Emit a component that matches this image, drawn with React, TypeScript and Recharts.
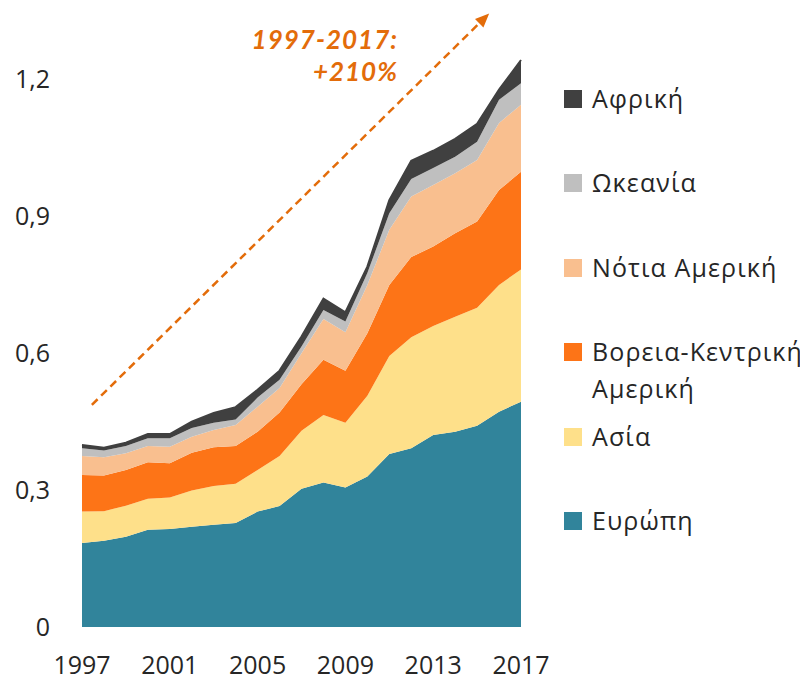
import React from 'react';
import { AreaChart, Area, XAxis, YAxis, ReferenceLine } from 'recharts';

const years = [1997, 1998, 1999, 2000, 2001, 2002, 2003, 2004, 2005, 2006, 2007, 2008, 2009, 2010, 2011, 2012, 2013, 2014, 2015, 2016, 2017];

const europe = [0.184, 0.189, 0.198, 0.213, 0.215, 0.22, 0.224, 0.228, 0.253, 0.265, 0.303, 0.317, 0.306, 0.33, 0.379, 0.392, 0.421, 0.428, 0.441, 0.472, 0.494];
const asia = [0.069, 0.065, 0.068, 0.068, 0.069, 0.079, 0.085, 0.086, 0.091, 0.11, 0.127, 0.148, 0.142, 0.177, 0.215, 0.243, 0.239, 0.252, 0.259, 0.278, 0.29];
const northCentralAmerica = [0.08, 0.078, 0.078, 0.08, 0.075, 0.083, 0.085, 0.083, 0.084, 0.095, 0.102, 0.121, 0.114, 0.137, 0.156, 0.176, 0.174, 0.183, 0.189, 0.208, 0.214];
const southAmerica = [0.042, 0.04, 0.037, 0.036, 0.036, 0.035, 0.038, 0.046, 0.055, 0.054, 0.068, 0.089, 0.084, 0.106, 0.121, 0.133, 0.135, 0.132, 0.135, 0.147, 0.147];
const oceania = [0.017, 0.015, 0.016, 0.017, 0.019, 0.019, 0.016, 0.012, 0.02, 0.018, 0.015, 0.02, 0.024, 0.026, 0.036, 0.038, 0.037, 0.036, 0.04, 0.051, 0.047];
const africa = [0.007, 0.006, 0.007, 0.009, 0.009, 0.014, 0.021, 0.027, 0.017, 0.02, 0.022, 0.025, 0.02, 0.014, 0.029, 0.04, 0.038, 0.039, 0.039, 0.022, 0.051];

const xTicks = [1997, 2001, 2005, 2009, 2013, 2017];
const yTicks = [0, 0.3, 0.6, 0.9, 1.2];

// bottom to top in the stack
const series = [
  { key: 'europe', name: 'Ευρώπη', color: '#31849b', values: europe },
  { key: 'asia', name: 'Ασία', color: '#fee08a', values: asia },
  { key: 'ncam', name: 'Βορεια-Κεντρική Αμερική', color: '#fd7417', values: northCentralAmerica },
  { key: 'sam', name: 'Νότια Αμερική', color: '#f9bf8f', values: southAmerica },
  { key: 'oceania', name: 'Ωκεανία', color: '#bfbfbf', values: oceania },
  { key: 'africa', name: 'Αφρική', color: '#404040', values: africa },
];

const data = years.map((year, i) => {
  const row: Record<string, number> = { year };
  series.forEach((s) => {
    row[s.key] = s.values[i];
  });
  return row;
});

const FONT = '"Open Sans", "Noto Sans", sans-serif';
const ANNOT = '#e36c0a';

const ArrowShape = (props: any) => {
  const { x1, y1, x2, y2 } = props;
  const ang = Math.atan2(y2 - y1, x2 - x1);
  const len = 14;
  const w = 6;
  const bx = x2 - len * Math.cos(ang);
  const by = y2 - len * Math.sin(ang);
  const px = -Math.sin(ang) * w;
  const py = Math.cos(ang) * w;
  return (
    <g>
      <line x1={x1} y1={y1} x2={bx} y2={by} stroke={ANNOT} strokeWidth={2.5} strokeDasharray="8 5" />
      <polygon points={`${x2},${y2} ${bx + px},${by + py} ${bx - px},${by - py}`} fill={ANNOT} />
    </g>
  );
};

const formatY = (v: number) => (v === 0 ? '0' : v.toFixed(1).replace('.', ','));

export default function App() {
  const legendItems = [...series].reverse();
  return (
    <div style={{ position: 'relative', width: 800, height: 674, fontFamily: FONT }}>
      <AreaChart width={800} height={674} data={data} margin={{ top: 26, right: 287, bottom: 0, left: 0 }}>
        <XAxis
          dataKey="year"
          type="number"
          domain={[1997, 2017]}
          ticks={xTicks}
          axisLine={false}
          tickLine={false}
          tickSize={0}
          tickMargin={29}
          height={55}
          tick={{ fill: '#262626', fontSize: 25, fontFamily: FONT }}
        />
        <YAxis
          domain={[0, 1.3]}
          ticks={yTicks}
          allowDataOverflow
          axisLine={false}
          tickLine={false}
          tickSize={0}
          tickMargin={32}
          width={74}
          tickFormatter={formatY}
          tick={{ fill: '#262626', fontSize: 25, fontFamily: FONT }}
        />
        {series.map((s) => (
          <Area
            key={s.key}
            type="linear"
            dataKey={s.key}
            name={s.name}
            stackId="1"
            fill={s.color}
            fillOpacity={1}
            stroke={s.key === 'africa' ? s.color : 'none'}
            strokeWidth={s.key === 'africa' ? 2 : 0}
            isAnimationActive={false}
          />
        ))}
        <ReferenceLine
          segment={[
            { x: 1997.45, y: 0.487 },
            { x: 2015.55, y: 1.345 },
          ]}
          ifOverflow="visible"
          shape={ArrowShape}
        />
      </AreaChart>

      <div
        style={{
          position: 'absolute',
          left: 180,
          width: 210,
          top: 15,
          textAlign: 'right',
          color: ANNOT,
          fontFamily: 'Lato, "Open Sans", sans-serif',
          fontWeight: 700,
          fontStyle: 'italic',
          fontSize: 26,
          lineHeight: '32px',
          letterSpacing: 1,
        }}
      >
        <div>1997-2017:</div>
        <div>+210%</div>
      </div>

      <div style={{ position: 'absolute', left: 556, top: 72, color: '#262626', fontSize: 25, letterSpacing: 1.1 }}>
        {legendItems.map((s) => (
          <div key={s.key} style={{ position: 'relative', height: 84.4, paddingLeft: 28, lineHeight: '37px', width: 232 }}>
            <span
              style={{
                position: 'absolute',
                left: 0,
                top: 10,
                width: 18,
                height: 18,
                background: s.color,
              }}
            />
            {s.name}
          </div>
        ))}
      </div>
    </div>
  );
}
